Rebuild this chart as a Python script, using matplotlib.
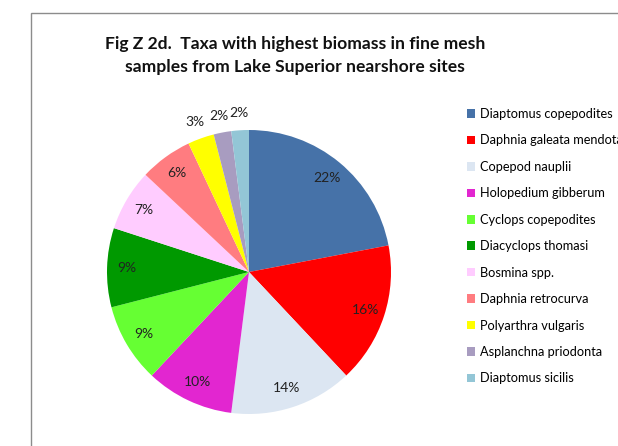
import matplotlib
matplotlib.use("Agg")
import matplotlib.pyplot as plt
import numpy as np
from matplotlib.patches import Rectangle

taxa = [
    "Diaptomus copepodites",
    "Daphnia galeata mendotae",
    "Copepod nauplii",
    "Holopedium gibberum",
    "Cyclops copepodites",
    "Diacyclops thomasi",
    "Bosmina spp.",
    "Daphnia retrocurva",
    "Polyarthra vulgaris",
    "Asplanchna priodonta",
    "Diaptomus sicilis",
]
percent = [22, 16, 14, 10, 9, 9, 7, 6, 3, 2, 2]
colors = [
    "#4672a8", "#ff0000", "#dce6f2", "#e226d0", "#66ff33", "#009900",
    "#ffccff", "#ff7c80", "#ffff00", "#a89cc0", "#93c6d6",
]

plt.rcParams["font.family"] = ["Lato", "DejaVu Sans"]

fig = plt.figure(figsize=(6.18, 4.46), dpi=100)

# chart-area border running off the right and bottom edges
fig.add_artist(Rectangle((31 / 618, -0.1), 1.2, 1.1 - 13 / 446,
                         transform=fig.transFigure, fill=False,
                         edgecolor="#8c8c8c", linewidth=1.0))

cx, cy, r = 249 / 618, 1 - 272 / 446, 142
ax = fig.add_axes([cx - r / 618, cy - r / 446, 2 * r / 618, 2 * r / 446])
wedges, _ = ax.pie(percent, colors=colors, startangle=90, counterclock=False,
                   wedgeprops=dict(linewidth=0))
ax.set_xlim(-1, 1)
ax.set_ylim(-1, 1)
ax.set_aspect("equal")
ax.axis("off")

# data labels: inside for larger slices, just outside for the small ones
cum = np.cumsum(percent) - np.array(percent) / 2
for p, c in zip(percent, cum):
    ang = np.deg2rad(90 - c / sum(percent) * 360)
    d = 0.86 if p > 5 else 1.12
    ax.text(d * np.cos(ang), d * np.sin(ang), f"{p}%", ha="center",
            va="center", fontsize=10, color="#222222", clip_on=False)

fig.text(0.477, 0.875,
         "Fig Z 2d.  Taxa with highest biomass in fine mesh\n"
         "samples from Lake Superior nearshore sites",
         ha="center", va="center", fontsize=12.6, fontweight="bold",
         linespacing=1.5, color="#111111")

fig.legend(wedges, taxa, loc="upper left", bbox_to_anchor=(467 / 618, 1 - 108 / 446),
           frameon=False, fontsize=9.2, handlelength=0.65, handleheight=0.65,
           handletextpad=0.4, labelspacing=1.13, borderaxespad=0, borderpad=0)

fig.savefig("out.png", dpi=100)
